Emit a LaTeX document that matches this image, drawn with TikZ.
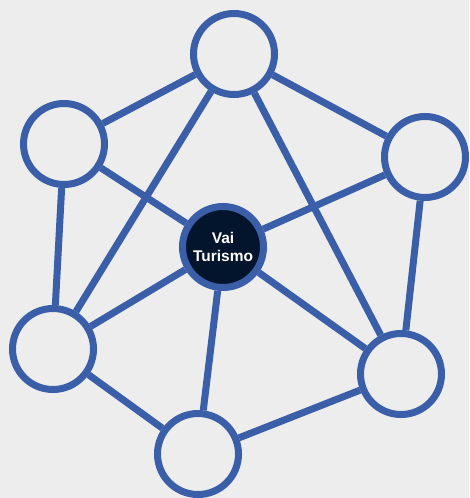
\documentclass[tikz,border=0pt]{standalone}
\usepackage{fontspec}
\setmainfont{Liberation Sans}
\usepackage{tikz}
\definecolor{netblue}{HTML}{3A5FA8}
\definecolor{navy}{HTML}{03142D}
\definecolor{bggray}{HTML}{EDEDED}
\tikzset{
    %Define style for the outer circles
    member/.style={
           circle,
           draw=netblue,
           line width=7pt,
           minimum size=81pt,
           inner sep=0pt,
           },
    %Define style for the centre circle
    hub/.style={
           circle,
           draw=netblue,
           line width=7pt,
           fill=navy,
           minimum size=81pt,
           inner sep=0pt,
           text=white,
           font=\bfseries\fontsize{15.5}{18}\selectfont,
           align=center,
           },
    % Define line style
    link/.style={
           draw=netblue,
           line width=7pt,},
}
\begin{document}
\begin{tikzpicture}[x=1pt,y=-1pt]
\fill[bggray] (0,0) rectangle (469,498);
\useasboundingbox (0,0) rectangle (469,498);

 %nodes
\node[member](top) at (234,54){};
\node[member](lup) at (64,144){};
\node[member](rup) at (425,157){};
\node[hub](hub) at (223,247){Vai\\Turismo};
\node[member](llo) at (53,349){};
\node[member](rlo) at (401,374){};
\node[member](bot) at (198,454){};

 \path[link]
    (top) edge (lup)
    (top) edge (rup)
    (top) edge (llo)
    (top) edge (rlo)
    (lup) edge (hub)
    (lup) edge (llo)
    (rup) edge (hub)
    (rup) edge (rlo)
    (hub) edge (llo)
    (hub) edge (bot)
    (hub) edge (rlo)
    (llo) edge (bot)
    (bot) edge (rlo);

\end{tikzpicture}
\end{document}
